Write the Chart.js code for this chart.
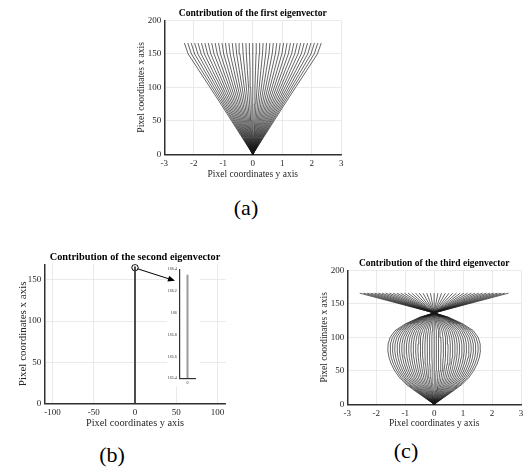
<!DOCTYPE html>
<html>
<head>
<meta charset="utf-8">
<script src="https://cdn.jsdelivr.net/npm/chart.js@4.4.1/dist/chart.umd.min.js"></script>
<style>
  body { margin: 0; width: 529px; height: 470px; background: #fff; position: relative; overflow: hidden; }
  canvas { position: absolute; }
  .cap { position: absolute; font: 22px "Liberation Serif"; color: #000; transform: translate(-50%, -50%); }
</style>
</head>
<body>
<canvas id="chartA" width="232" height="186" style="left:128px;top:0px"></canvas>
<canvas id="chartB" width="240" height="192" style="left:10px;top:240px"></canvas>
<canvas id="chartInset" width="70" height="125" style="left:130px;top:262px"></canvas>
<canvas id="chartC" width="217" height="182" style="left:312px;top:250px"></canvas>
<div class="cap" style="left:246px;top:208px">(a)</div>
<div class="cap" style="left:112px;top:455px">(b)</div>
<div class="cap" style="left:406px;top:451px">(c)</div>
<script>
// weights of each drawn line (multiples of the eigenvector)
const weights = [-1, -0.95, -0.9, -0.85, -0.8, -0.75, -0.7, -0.65, -0.6, -0.55, -0.5,
  -0.45, -0.4, -0.35, -0.3, -0.25, -0.2, -0.15, -0.1, -0.05, 0, 0.05, 0.1, 0.15, 0.2,
  0.25, 0.3, 0.35, 0.4, 0.45, 0.5, 0.55, 0.6, 0.65, 0.7, 0.75, 0.8, 0.85, 0.9, 0.95, 1];

// first eigenvector: outermost line (weight 1)
const firstY = [0, 25, 50, 75, 100, 125, 150, 166.3];
const firstX = [0, 0.36, 0.72, 1.08, 1.45, 1.82, 2.19, 2.32];

// second eigenvector: all lines sit on x = 0
const secondY = [0, 166.3];
const secondX = [0, 0];
const insetY = [165.4, 166.35];
const insetX = [0, 0];
const circled = [0, 165];
const arrowFrom = [3.5, 163.5];
const arrowTo = [48.5, 149];

// third eigenvector: outermost line (weight 1)
const thirdY = [0, 10, 20, 30, 40, 50, 60, 70, 80, 90, 100, 110, 120, 130, 136.5, 150, 166];
const thirdX = [0, 0.33, 0.66, 0.97, 1.2, 1.36, 1.48, 1.56, 1.6, 1.59, 1.52, 1.35, 1.0, 0.5, 0, -1.18, -2.57];

// tick labels
const ticksA_x = [-3, -2, -1, 0, 1, 2, 3];
const ticksA_y = [0, 50, 100, 150, 200];
const ticksB_x = [-100, -50, 0, 50, 100];
const ticksB_y = [0, 50, 100, 150];
const ticksInset_x = [0];
const ticksInset_y = [165.4, 165.6, 165.8, 166, 166.2, 166.4];

Chart.defaults.font.family = 'Liberation Serif';
Chart.defaults.color = '#262626';
Chart.defaults.animation = false;

function fanSets(profX, profY) {
  return weights.map(w => ({
    data: profY.map((y, i) => ({ x: w * profX[i], y: y })),
    showLine: true, borderColor: 'rgba(25,25,25,0.9)', borderWidth: 0.75,
    pointRadius: 0, fill: false
  }));
}

function lineSet(xs, ys, color, width, dash) {
  return {
    data: ys.map((y, i) => ({ x: xs[i], y: y })),
    showLine: true, borderColor: color, borderWidth: width, borderDash: dash || [],
    pointRadius: 0, fill: false
  };
}

function scale(o) {
  return {
    type: 'linear', min: o.min, max: o.max,
    afterBuildTicks: s => { s.ticks = o.ticks.map(v => ({ value: v })); },
    afterFit: s => { if (s.isHorizontal()) s.height = o.size; else s.width = o.size; },
    grid: { display: o.grid !== false, color: '#e4e4e4', lineWidth: 0.8, drawTicks: false },
    border: { color: '#303030', width: o.bw || 1.5 },
    ticks: { padding: o.pad, font: { size: o.fs || 9 }, color: '#262626', callback: v => String(v) },
    title: { display: !!o.title, text: o.title, color: '#262626', font: { size: o.tfs || 9.5 }, padding: o.tpad }
  };
}

function options(title, tfs, padding, tpad, xs, ys) {
  return {
    responsive: false, animation: false,
    layout: { padding: padding },
    plugins: {
      legend: { display: false }, tooltip: { enabled: false },
      title: { display: !!title, text: title, fullSize: false, color: '#000',
               font: { size: tfs, weight: 'bold' }, padding: tpad }
    },
    scales: { x: xs, y: ys }
  };
}

// (a)
new Chart(document.getElementById('chartA'), {
  type: 'scatter',
  data: { datasets: fanSets(firstX, firstY) },
  options: options('Contribution of the first eigenvector', 9.6,
    { top: 4, left: 0, right: 18.7, bottom: 0 }, { top: 4, bottom: 1 },
    scale({ min: -3, max: 3, ticks: ticksA_x, size: 31.7, pad: 4, title: 'Pixel coordinates y axis', tpad: { top: 0, bottom: 6 } }),
    scale({ min: 0, max: 200, ticks: ticksA_y, size: 36.3, pad: 3, title: 'Pixel coordinates x axis', tpad: { top: 8, bottom: 0 } }))
});

// (b)
const chartB = new Chart(document.getElementById('chartB'), {
  type: 'scatter',
  data: { datasets: [
    lineSet(secondX, secondY, '#3a3a3a', 1.8),
    { data: [{ x: circled[0], y: circled[1] }], pointRadius: 3.2, pointStyle: 'circle',
      backgroundColor: 'rgba(0,0,0,0)', borderColor: '#000', borderWidth: 1 }
  ] },
  options: options('Contribution of the second eigenvector', 10.3,
    { top: 4, left: 0, right: 24.3, bottom: 0 }, { top: 6.7, bottom: 1.3 },
    scale({ min: -110, max: 110, ticks: ticksB_x, size: 28.7, pad: 4, fs: 9, title: 'Pixel coordinates y axis', tfs: 10.3, tpad: { top: 0, bottom: 2.3 } }),
    scale({ min: 0, max: 169, ticks: ticksB_y, size: 34.3, pad: 3, fs: 9, title: 'Pixel coordinates x axis', tfs: 11, tpad: { top: 6.5, bottom: 0 } }))
});

// inset of (b): white background plus the arrow from the circled point
const insetDecor = {
  id: 'insetDecor',
  beforeDraw(chart) {
    const a = chart.chartArea, ctx = chart.ctx;
    ctx.save();
    ctx.fillStyle = '#fff';
    ctx.fillRect(a.left - 12, a.top - 4, a.right - a.left + 16, a.bottom - a.top + 12);
    ctx.restore();
  },
  afterDraw(chart) {
    const rb = chartB.canvas.getBoundingClientRect(), ri = chart.canvas.getBoundingClientRect();
    const dx = rb.left - ri.left, dy = rb.top - ri.top;
    const sx = chartB.scales.x, sy = chartB.scales.y;
    const x1 = sx.getPixelForValue(arrowFrom[0]) + dx, y1 = sy.getPixelForValue(arrowFrom[1]) + dy;
    const x2 = sx.getPixelForValue(arrowTo[0]) + dx, y2 = sy.getPixelForValue(arrowTo[1]) + dy;
    const ang = Math.atan2(y2 - y1, x2 - x1), ctx = chart.ctx;
    ctx.save();
    ctx.strokeStyle = '#000'; ctx.fillStyle = '#000'; ctx.lineWidth = 1;
    ctx.beginPath(); ctx.moveTo(x1, y1); ctx.lineTo(x2 - 4 * Math.cos(ang), y2 - 4 * Math.sin(ang)); ctx.stroke();
    ctx.beginPath();
    ctx.moveTo(x2, y2);
    ctx.lineTo(x2 - 7 * Math.cos(ang) + 3 * Math.sin(ang), y2 - 7 * Math.sin(ang) - 3 * Math.cos(ang));
    ctx.lineTo(x2 - 7 * Math.cos(ang) - 3 * Math.sin(ang), y2 - 7 * Math.sin(ang) + 3 * Math.cos(ang));
    ctx.closePath(); ctx.fill();
    ctx.restore();
  }
};

new Chart(document.getElementById('chartInset'), {
  type: 'scatter',
  data: { datasets: [
    lineSet(insetX, insetY, '#9a9a9a', 2),
    lineSet(insetX, insetY, '#3a3a3a', 1, [7, 6])
  ] },
  options: options('', 4, { top: 7.3, left: 0, right: 4.3, bottom: 0 }, 0,
    scale({ min: -1, max: 1, ticks: ticksInset_x, size: 8.7, pad: 2.5, fs: 4, grid: false, bw: 1.2 }),
    scale({ min: 165.4, max: 166.4, ticks: ticksInset_y, size: 49.3, pad: 2.5, fs: 4, grid: false, bw: 1.2 })),
  plugins: [insetDecor]
});

// (c)
new Chart(document.getElementById('chartC'), {
  type: 'scatter',
  data: { datasets: fanSets(thirdX, thirdY) },
  options: options('Contribution of the third eigenvector', 9.5,
    { top: 4, left: 0, right: 8, bottom: 0 }, { top: 4, bottom: 1 },
    scale({ min: -3, max: 3, ticks: ticksA_x, size: 27.7, pad: 3.5, title: 'Pixel coordinates y axis', tpad: { top: 0, bottom: 2.7 } }),
    scale({ min: 0, max: 200, ticks: ticksA_y, size: 35.3, pad: 3, title: 'Pixel coordinates x axis', tpad: { top: 7, bottom: 0 } }))
});
</script>
</body>
</html>
